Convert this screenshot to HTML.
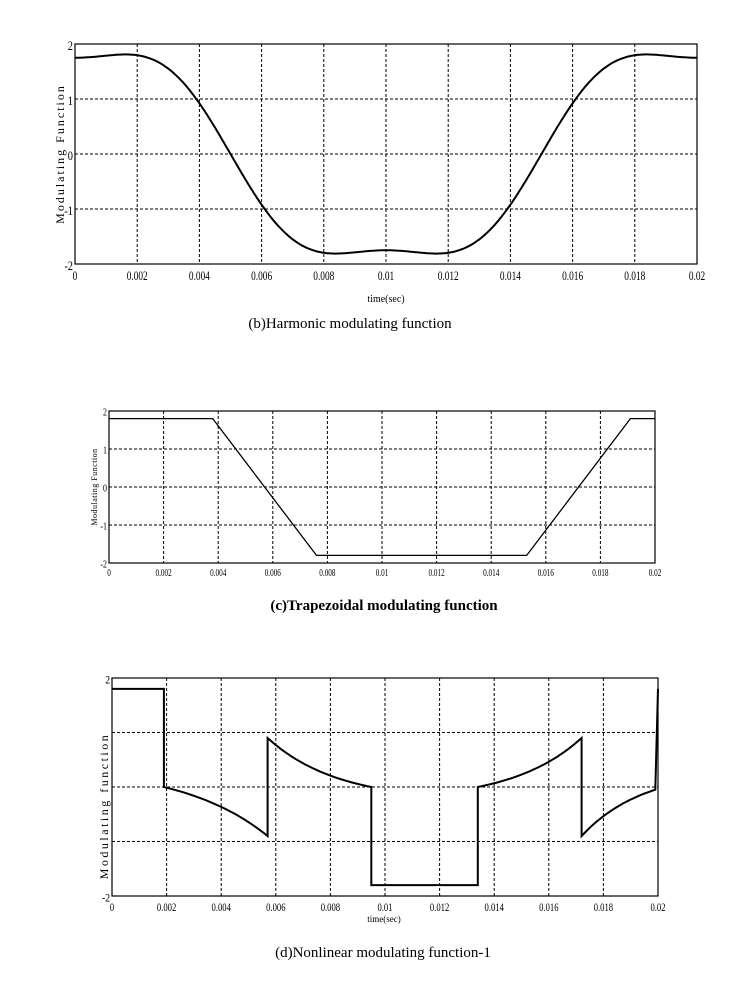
<!DOCTYPE html><html><head><style>body{margin:0;background:#fff}svg{display:block}text{font-family:"Liberation Serif",serif}</style></head><body>
<svg id="s" width="742" height="989" xmlns="http://www.w3.org/2000/svg">
<g font-size="11" text-anchor="middle" fill="#000">
<text x="386" y="302" font-size="10">time(sec)</text>
<text x="350" y="328" font-size="15">(b)Harmonic modulating function</text>
<text x="60" y="158" font-size="12" transform="rotate(-90 60 154)" letter-spacing="2">Modulating Function</text>
<text x="384" y="610" font-size="15" font-weight="bold">(c)Trapezoidal modulating function</text>
<text x="93" y="491" font-size="8" transform="rotate(-90 93 487)" letter-spacing="0.5">Modulating Function</text>
<text x="384" y="922" font-size="9">time(sec)</text>
<text x="383" y="957" font-size="15">(d)Nonlinear modulating function-1</text>
<text x="104" y="810" font-size="12" transform="rotate(-90 104 806)" letter-spacing="2.5">Modulating function</text>
</g>
<g id="plots"></g>
</svg>
<script>
const P=document.getElementById('plots');let h='';
function plot(L,R,T,B,f,fs,gray,onlyEnds){
 const W=R-L,H=B-T;const X=t=>L+t/0.02*W,Y=v=>T+(2-v)/4*H;
 for(let i=1;i<10;i++){let x=L+i*W/10;h+=`<line x1="${x}" y1="${T}" x2="${x}" y2="${B}" stroke="#000" stroke-dasharray="3,2" stroke-width="1"/>`}
 for(let v=-1;v<=1;v++){let y=Y(v);h+=`<line x1="${L}" y1="${y}" x2="${R}" y2="${y}" stroke="#000" stroke-dasharray="3,2" stroke-width="1"/>`}
 h+=`<rect x="${L}" y="${T}" width="${W}" height="${H}" fill="none" stroke="#000" stroke-width="1.2"/>`;
 const xl=['0','0.002','0.004','0.006','0.008','0.01','0.012','0.014','0.016','0.018','0.02'];
 xl.forEach((s,i)=>{let x=L+i*W/10;h+=`<text x="0" y="0" font-size="${fs+1}" text-anchor="middle" transform="translate(${x} ${B+fs+4}) scale(0.72 1)">${s}</text>`});
 [2,1,0,-1,-2].forEach(v=>{if(onlyEnds&&Math.abs(v)!=2)return;h+=`<text x="0" y="0" font-size="${fs+1}" text-anchor="end" transform="translate(${L-2} ${Y(v)+fs/2}) scale(0.8 1)">${v}</text>`});
 let pts=f.map(p=>X(p[0]).toFixed(1)+','+Y(p[1]).toFixed(1)).join(' ');
 h+=`<polyline points="${pts}" fill="none" stroke="#000" stroke-width="${gray?1.3:2}"/>`;
}
let a=[];for(let i=0;i<=400;i++){let t=i*0.02/400,w=2*Math.PI*50*t;let v=2.09*Math.cos(w)-0.34*Math.cos(3*w);a.push([t,v])}
plot(75,697,44,264,a,12);
plot(109,655,411,563,[[0,1.8],[0.0038,1.8],[0.0076,-1.8],[0.0153,-1.8],[0.0191,1.8],[0.02,1.8]],9,1);
let c=[[0,1.8],[0.0019,1.8],[0.0019,0]];
for(let i=0;i<=30;i++){let u=i/30;c.push([0.0019+u*0.0038,-0.9*(Math.exp(1.2*u)-1)/(Math.exp(1.2)-1)])}
for(let i=0;i<=30;i++){let u=i/30;c.push([0.0057+u*0.0038,0.9*(Math.exp(1.5*(1-u))-1)/(Math.exp(1.5)-1)])}
c.push([0.0095,-1.8],[0.0134,-1.8],[0.0134,0]);
for(let i=0;i<=30;i++){let u=i/30;c.push([0.0134+u*0.0038,0.9*(Math.exp(1.5*u)-1)/(Math.exp(1.5)-1)])}
c.push([0.0172,-0.9]);
for(let i=1;i<=30;i++){let u=i/30;c.push([0.0172+u*0.0027,-0.9+0.85*(1-Math.exp(-1.2*u))/(1-Math.exp(-1.2))])}
c.push([0.02,1.8]);
plot(112,658,678,896,c,11,0,1);
P.innerHTML=h;
</script>
</body></html>
